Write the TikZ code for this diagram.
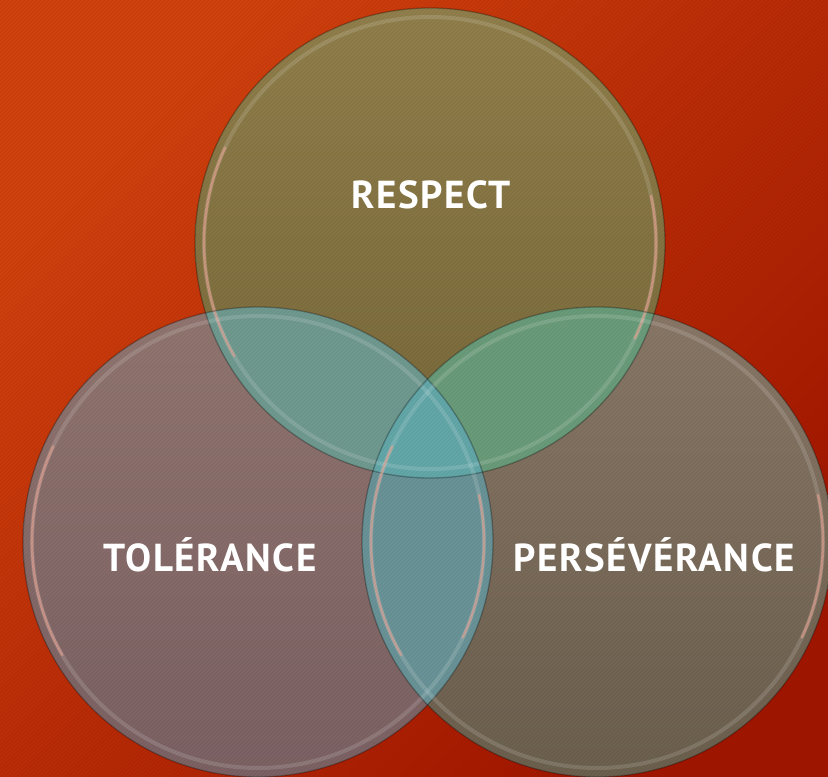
\documentclass[tikz,border=0pt]{standalone}
\usepackage{fontspec}
\setmainfont{PT Sans}
\begin{document}
\begin{tikzpicture}[x=1pt,y=1pt,
  lbl/.style={text=white, font=\bfseries\fontsize{39}{47}\selectfont\addfontfeatures{LetterSpace=4}, inner sep=0pt},
  rimdark/.style={draw=black, draw opacity=.28, line width=1.3pt},
  rimlight/.style={draw=white, draw opacity=.14, line width=4pt},
  rimpink/.style={draw=pinkhl, draw opacity=.6, line width=2.6pt, line cap=round}]
\definecolor{bgA}{RGB}{210,66,14}
\definecolor{bgB}{RGB}{162,22,0}
\definecolor{tTop}{RGB}{146,128,76}
\definecolor{tBot}{RGB}{120,104,58}
\definecolor{lTop}{RGB}{146,118,112}
\definecolor{lBot}{RGB}{124,98,100}
\definecolor{rTop}{RGB}{138,120,104}
\definecolor{rBot}{RGB}{108,96,78}
\definecolor{oTL}{RGB}{112,154,144}
\definecolor{oTR}{RGB}{106,156,122}
\definecolor{oLR}{RGB}{106,148,152}
\definecolor{oTLR}{RGB}{100,168,170}
\definecolor{pinkhl}{RGB}{236,164,148}
\def\R{235}
\path[use as bounding box] (0,0) rectangle (828,777);
\shade[top color=bgA, bottom color=bgB, shading angle=45] (0,0) rectangle (828,777);

\coordinate (cT) at (430,534);
\coordinate (cL) at (258,235);
\coordinate (cR) at (597,235);

% circle bodies
\shade[top color=tTop, bottom color=tBot] (cT) circle (\R);
\shade[top color=lTop, bottom color=lBot] (cL) circle (\R);
\shade[top color=rTop, bottom color=rBot] (cR) circle (\R);

% overlaps
\begin{scope}
  \clip (cT) circle (\R);
  \fill[oTL] (cL) circle (\R);
  \fill[oTR] (cR) circle (\R);
\end{scope}
\begin{scope}
  \clip (cL) circle (\R);
  \fill[oLR] (cR) circle (\R);
\end{scope}
\begin{scope}
  \clip (cT) circle (\R);
  \clip (cL) circle (\R);
  \fill[oTLR] (cR) circle (\R);
\end{scope}

% rims
\foreach \c in {cT,cL,cR}{
  \draw[rimlight] (\c) circle (\R-9);
  \draw[rimdark] (\c) circle (\R);
  \draw[rimpink] (\c) ++(155:\R-9) arc[start angle=155, end angle=210, radius=\R-9];
  \draw[rimpink] (\c) ++(-25:\R-9) arc[start angle=-25, end angle=12, radius=\R-9];
}

% subtle diagonal texture
\begin{scope}
  \clip (0,0) rectangle (828,777);
  \foreach \i in {-800,-796,...,828}{
    \draw[black, opacity=.05, line width=1.2pt] (\i,0) -- ++(777,777);
  }
\end{scope}

\node[lbl] (respect) at (431,582) {RESPECT};
\node[lbl] (tolerance) at (210,222) {TOLÉRANCE};
\node[lbl] (perseverance) at (654,222) {PERSÉVÉRANCE};
\end{tikzpicture}
\end{document}
